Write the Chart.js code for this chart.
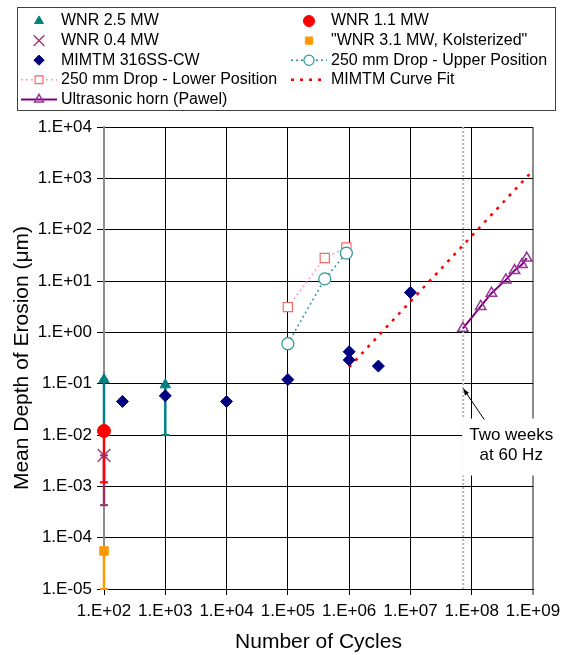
<!DOCTYPE html>
<html>
<head>
<meta charset="utf-8">
<script src="https://cdn.jsdelivr.net/npm/chart.js@4.4.1/dist/chart.umd.min.js"></script>
<style>
    body { margin: 0; background: #fff; }
    canvas { display: block; }
</style>
</head>
<body>
<canvas id="erosion-chart" width="571" height="655"></canvas>
<script>
/**
 * Mean depth of erosion vs number of cycles (log-log)
 */

// Axis ticks
const xTickValues = [1e2, 1e3, 1e4, 1e5, 1e6, 1e7, 1e8, 1e9];
const xTickLabels = ['1.E+02', '1.E+03', '1.E+04', '1.E+05', '1.E+06', '1.E+07', '1.E+08', '1.E+09'];
const yTickValues = [1e4, 1e3, 1e2, 1e1, 1e0, 1e-1, 1e-2, 1e-3, 1e-4, 1e-5];
const yTickLabels = ['1.E+04', '1.E+03', '1.E+02', '1.E+01', '1.E+00', '1.E-01', '1.E-02', '1.E-03', '1.E-04', '1.E-05'];

// WNR field data (point + lower end of the range bar)
const wnr25Cycles = [100, 1000];
const wnr25Depth = [0.12, 0.095];
const wnr25Low = [0.012, 0.01];

const wnr11Cycles = [100];
const wnr11Depth = [0.012];
const wnr11Low = [0.0012];

const wnr04Cycles = [100];
const wnr04Depth = [0.004];
const wnr04Low = [0.00043];

const wnr31Cycles = [100];
const wnr31Depth = [0.000055];
const wnr31Low = [0.00001];

// MIMTM 316SS-CW
const mimtmCycles = [200, 1000, 10000, 1e5, 1e6, 1e6, 3e6, 1e7];
const mimtmDepth = [0.045, 0.058, 0.045, 0.12, 0.42, 0.29, 0.22, 6.0];

// 250 mm drop tests
const dropCycles = [1e5, 4e5, 9e5];
const dropLowerDepth = [3.1, 28, 45];
const dropUpperDepth = [0.6, 11, 35];

// MIMTM curve fit (end points)
const fitCycles = [1e6, 9e8];
const fitDepth = [0.21, 1250];

// Ultrasonic horn (Pawel)
const hornCycles = [7.2e7, 1.4e8, 2.1e8, 3.6e8, 5.0e8, 6.6e8, 7.9e8];
const hornDepth = [1.2, 3.2, 5.8, 10.5, 16, 21, 28];

// Two weeks at 60 Hz marker
const twoWeeksCycles = 7.26e7;
const noteArrowTip = [7.3e7, 0.08];
const noteArrowTail = [1.6e8, 0.02];
const noteLines = ['Two weeks', 'at 60 Hz'];

const FONT = '"Liberation Sans", Arial, Helvetica, sans-serif';

function pts(xs, ys) {
    return xs.map((x, i) => ({ x: x, y: ys[i] }));
}

// Vertical range bar from low to value, with a cap at the bottom
function rangeBars(xs, ys, lows, color) {
    return xs.map((x, i) => ({
        data: [{ x: x, y: lows[i] }, { x: x, y: ys[i] }],
        showLine: true,
        borderColor: color,
        backgroundColor: color,
        borderWidth: 2.5,
        pointStyle: 'line',
        pointRadius: 4,
        pointBorderWidth: 2,
        order: 2,
        clip: false
    }));
}

const datasets = [
    {
        label: 'WNR 2.5 MW', inLegend: true,
        data: pts(wnr25Cycles, wnr25Depth),
        pointStyle: 'triangle', pointRadius: 6,
        backgroundColor: '#008080', borderColor: '#008080', pointBorderWidth: 1
    },
    {
        label: 'WNR 1.1 MW', inLegend: true,
        data: pts(wnr11Cycles, wnr11Depth),
        pointStyle: 'circle', pointRadius: 6.5,
        backgroundColor: '#FF0000', borderColor: '#FF0000', pointBorderWidth: 1
    },
    {
        label: 'WNR 0.4 MW', inLegend: true,
        data: pts(wnr04Cycles, wnr04Depth),
        pointStyle: 'crossRot', pointRadius: 9,
        backgroundColor: '#993366', borderColor: '#993366', pointBorderWidth: 1.3
    },
    {
        label: '"WNR 3.1 MW, Kolsterized"', inLegend: true,
        data: pts(wnr31Cycles, wnr31Depth),
        pointStyle: 'rect', pointRadius: 6,
        backgroundColor: '#FF9900', borderColor: '#FF9900', pointBorderWidth: 1
    },
    {
        label: 'MIMTM 316SS-CW', inLegend: true,
        data: pts(mimtmCycles, mimtmDepth),
        pointStyle: 'rectRot', pointRadius: 6,
        backgroundColor: '#000080', borderColor: '#000080', pointBorderWidth: 1
    },
    {
        label: '250 mm Drop - Upper Position', inLegend: true,
        data: pts(dropCycles, dropUpperDepth),
        showLine: true, borderDash: [2, 3], borderWidth: 1.5,
        pointStyle: 'circle', pointRadius: 6,
        backgroundColor: '#FFFFFF', borderColor: '#2E9696', pointBorderWidth: 1.2
    },
    {
        label: '250 mm Drop - Lower Position', inLegend: true,
        data: pts(dropCycles, dropLowerDepth),
        showLine: true, borderDash: [2, 3], borderWidth: 1.5,
        borderColor: '#FF99CC',
        pointStyle: 'rect', pointRadius: 6.5,
        pointBackgroundColor: '#FFFFFF', pointBorderColor: '#FF6666', pointBorderWidth: 1.2,
        backgroundColor: '#FFFFFF'
    },
    {
        label: 'MIMTM Curve Fit', inLegend: true,
        data: pts(fitCycles, fitDepth),
        showLine: true, borderDash: [3, 6], borderWidth: 2.5,
        borderColor: '#FF0000', backgroundColor: '#FF0000',
        pointRadius: 0
    },
    {
        label: 'Ultrasonic horn (Pawel)', inLegend: true,
        data: pts(hornCycles, hornDepth),
        showLine: true, borderWidth: 2,
        borderColor: '#800080',
        pointStyle: 'triangle', pointRadius: 6,
        pointBackgroundColor: 'rgba(255,255,255,0)', pointBorderColor: '#993399', pointBorderWidth: 1.5,
        backgroundColor: '#FFFFFF'
    },
    ...rangeBars(wnr25Cycles, wnr25Depth, wnr25Low, '#008080'),
    ...rangeBars(wnr11Cycles, wnr11Depth, wnr11Low, '#FF0000'),
    ...rangeBars(wnr04Cycles, wnr04Depth, wnr04Low, '#993366'),
    ...rangeBars(wnr31Cycles, wnr31Depth, wnr31Low, '#FF9900'),
    {
        data: [{ x: twoWeeksCycles, y: 1e-5 }, { x: twoWeeksCycles, y: 1e4 }],
        showLine: true, borderColor: '#B4B4B4', borderWidth: 2, borderDash: [2, 2],
        pointRadius: 0, order: 3
    }
];
datasets.forEach(ds => { if (ds.clip === undefined) ds.clip = false; });

/**
 * Boxed two-column legend at the top
 */
const boxLegend = {
    id: 'boxLegend',
    afterDraw(chart) {
        const ctx = chart.ctx;
        const items = chart.data.datasets.filter(ds => ds.inLegend);
        ctx.save();
        ctx.strokeStyle = '#404040';
        ctx.lineWidth = 1;
        ctx.strokeRect(17.5, 7.5, 538, 103);
        ctx.font = '16px ' + FONT;
        ctx.textBaseline = 'middle';
        ctx.textAlign = 'left';

        items.forEach((ds, i) => {
            const col = i % 2;
            const row = Math.floor(i / 2);
            const mx = col ? 309 : 39;
            const tx = col ? 331 : 61;
            const y = 21 + row * 19.6;

            if (ds.showLine) {
                ctx.save();
                ctx.strokeStyle = ds.borderColor;
                ctx.lineWidth = ds.borderWidth;
                ctx.setLineDash(ds.borderDash || []);
                ctx.beginPath();
                ctx.moveTo(mx - 18, y);
                ctx.lineTo(mx + 18, y);
                ctx.stroke();
                ctx.restore();
            }
            if (ds.pointRadius) {
                ctx.save();
                ctx.fillStyle = ds.pointBackgroundColor || ds.backgroundColor;
                ctx.strokeStyle = ds.pointBorderColor || ds.borderColor;
                ctx.lineWidth = ds.pointBorderWidth || 1;
                Chart.helpers.drawPoint(ctx, {
                    pointStyle: ds.pointStyle,
                    radius: ds.pointRadius * 0.85,
                    rotation: 0,
                    borderWidth: ds.pointBorderWidth || 1
                }, mx, y);
                ctx.restore();
            }
            ctx.fillStyle = '#000';
            ctx.fillText(ds.label, tx, y);
        });
        ctx.restore();
    }
};

/**
 * "Two weeks at 60 Hz" callout
 */
const twoWeeksNote = {
    id: 'twoWeeksNote',
    afterDatasetsDraw(chart) {
        const { ctx, scales } = chart;
        const tipX = scales.x.getPixelForValue(noteArrowTip[0]);
        const tipY = scales.y.getPixelForValue(noteArrowTip[1]);
        const tailX = scales.x.getPixelForValue(noteArrowTail[0]);
        const tailY = scales.y.getPixelForValue(noteArrowTail[1]);

        ctx.save();
        ctx.fillStyle = '#fff';
        ctx.fillRect(tailX - 22, tailY - 1, 96, 57);

        // arrow
        ctx.strokeStyle = '#000';
        ctx.fillStyle = '#000';
        ctx.lineWidth = 1;
        ctx.beginPath();
        ctx.moveTo(tailX, tailY);
        ctx.lineTo(tipX, tipY);
        ctx.stroke();
        const ang = Math.atan2(tipY - tailY, tipX - tailX);
        ctx.beginPath();
        ctx.moveTo(tipX, tipY);
        ctx.lineTo(tipX - 7 * Math.cos(ang - 0.35), tipY - 7 * Math.sin(ang - 0.35));
        ctx.lineTo(tipX - 7 * Math.cos(ang + 0.35), tipY - 7 * Math.sin(ang + 0.35));
        ctx.closePath();
        ctx.fill();

        // text
        ctx.font = '17px ' + FONT;
        ctx.textAlign = 'center';
        ctx.textBaseline = 'middle';
        noteLines.forEach((line, i) => {
            ctx.fillText(line, tailX + 27, tailY + 16 + i * 20);
        });
        ctx.restore();
    }
};

const ctx = document.getElementById('erosion-chart').getContext('2d');

new Chart(ctx, {
    type: 'scatter',
    data: { datasets: datasets },
    plugins: [twoWeeksNote, boxLegend],
    options: {
        responsive: false,
        animation: false,
        layout: { padding: { top: 127, right: 38, bottom: 0, left: 0 } },
        plugins: {
            legend: { display: false },
            tooltip: { enabled: false }
        },
        scales: {
            x: {
                type: 'logarithmic',
                min: 1e2,
                max: 1e9,
                afterBuildTicks: (scale) => {
                    scale.ticks = xTickValues.map(v => ({ value: v }));
                },
                afterFit: (scale) => { scale.height = 66; },
                ticks: {
                    autoSkip: false,
                    maxRotation: 0,
                    padding: 6,
                    color: '#000',
                    font: { family: FONT, size: 17 },
                    callback: (value, index) => xTickLabels[index]
                },
                grid: {
                    color: (c) => (c.tick && c.tick.value === 1e9) ? '#8C8C8C' : '#000',
                    lineWidth: (c) => (c.tick && c.tick.value === 1e9) ? 2 : 1,
                    tickLength: 6
                },
                border: { color: '#000', width: 1 },
                title: {
                    display: true,
                    text: 'Number of Cycles',
                    color: '#000',
                    font: { family: FONT, size: 21 },
                    padding: { top: 0, bottom: 0 }
                }
            },
            y: {
                type: 'logarithmic',
                min: 1e-5,
                max: 1e4,
                afterBuildTicks: (scale) => {
                    scale.ticks = yTickValues.slice().reverse().map(v => ({ value: v }));
                },
                afterFit: (scale) => { scale.width = 104; },
                ticks: {
                    autoSkip: false,
                    padding: 5,
                    color: '#000',
                    font: { family: FONT, size: 17 },
                    callback: (value, index) => yTickLabels[yTickLabels.length - 1 - index]
                },
                grid: {
                    color: '#000',
                    lineWidth: 1,
                    tickLength: 7
                },
                border: { color: '#8C8C8C', width: 2 },
                title: {
                    display: true,
                    text: 'Mean Depth of Erosion (μm)',
                    color: '#000',
                    font: { family: FONT, size: 21 },
                    padding: { top: 10, bottom: 0 }
                }
            }
        }
    }
});
</script>
</body>
</html>
